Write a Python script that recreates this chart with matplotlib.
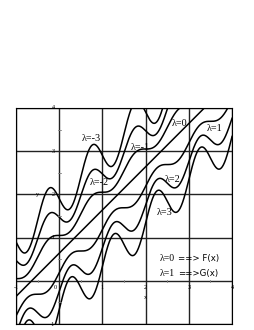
import matplotlib
matplotlib.use("Agg")
import matplotlib.pyplot as plt
import numpy as np

# family of curves y = x + offset + amp*sin(2*pi*x), one per lambda
lambdas = [-3, -2, -1, 0, 1, 2, 3]
offsets = [1.90, 1.47, 1.05, 0.64, 0.19, -0.24, -0.66]
amps = [-0.48, -0.32, -0.16, 0.0, 0.16, 0.32, 0.48]

# where the lambda labels sit (data units)
label_x = [0.74, 0.92, 1.87, 2.79, 3.59, 2.63, 2.44]
label_y = [3.29, 2.28, 3.09, 3.64, 3.53, 2.35, 1.59]

ticks = [-1, 0, 1, 2, 3, 4]
tick_names = ['-1', '0', '1', '2', '3', '4']

fig = plt.figure(figsize=(2.55, 3.30), dpi=100)
ax = fig.add_axes([0.063, 0.018, 0.847, 0.655])

x = np.linspace(-1, 4, 1500)
for off, a in zip(offsets, amps):
    ax.plot(x, x + off + a * np.sin(2 * np.pi * x), color='black', lw=1.1)

for lam, lx, ly in zip(lambdas, label_x, label_y):
    ax.text(lx, ly, 'λ=%d' % lam, family='Liberation Serif', fontsize=7.3,
            ha='center', va='center')

ax.text(2.33, 0.51, 'λ=0', family='Liberation Serif', fontsize=7, va='center')
ax.text(2.76, 0.51, '==> F(x)', family='DejaVu Sans', fontsize=6.2, va='center')
ax.text(2.33, 0.16, 'λ=1', family='Liberation Serif', fontsize=7, va='center')
ax.text(2.76, 0.16, '==>G(x)', family='DejaVu Sans', fontsize=6.2, va='center')

ax.set_xlim(-1, 4)
ax.set_ylim(-1, 4)
ax.set_xticks(ticks)
ax.set_yticks(ticks)
ax.set_xticklabels([])
ax.set_yticklabels([])
ax.tick_params(length=0)
ax.grid(True, color='#222222', lw=1.0)
for s in ax.spines.values():
    s.set_linewidth(0.8)

# small axis labels on the crossing axes
for t, name in zip(ticks, tick_names):
    if t != 0:
        ax.text(t, -0.1, name, fontsize=4.5, family='Liberation Serif',
                ha='center', va='top')
        ax.text(-0.1, t, name, fontsize=4.5, family='Liberation Serif',
                ha='right', va='center')
ax.text(-0.05, -0.1, '0', fontsize=4.5, family='Liberation Serif', ha='right', va='top')
ax.text(2, -0.33, 'x', fontsize=4.5, family='Liberation Serif', ha='center', va='top')
ax.text(-0.5, 2, 'y', fontsize=4.5, family='Liberation Serif', ha='center', va='center')
for t in np.arange(-0.5, 4, 1.0):
    ax.plot([t, t], [-0.03, 0.03], color='gray', lw=0.6)
    ax.plot([-0.03, 0.03], [t, t], color='gray', lw=0.6)

fig.savefig('out.png', dpi=100)
